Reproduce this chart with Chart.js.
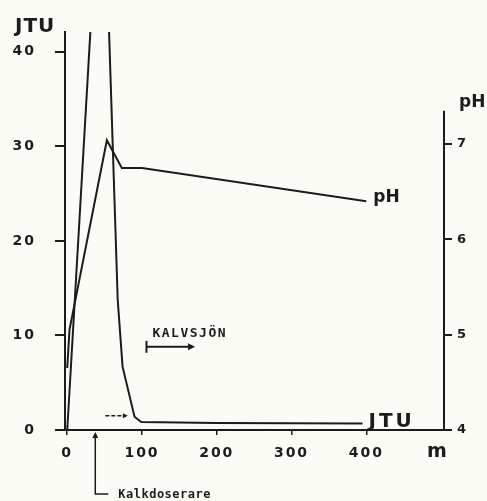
<!DOCTYPE html>
<html>
<head>
<meta charset="utf-8">
<script src="https://cdn.jsdelivr.net/npm/chart.js@4.4.0/dist/chart.umd.min.js"></script>
<style>
  html, body { margin: 0; padding: 0; background: #fcfcf7; }
  canvas { display: block; }
</style>
</head>
<body>
<canvas id="kalkChart" width="487" height="501"></canvas>
<script>
// Grumlighet (JTU) längs vattendraget, avstånd i meter
const jtuDistance = [0, 47, 67.5, 74, 90, 99, 200, 395];
const jtuValues   = [0, 64, 13.8, 6.7, 1.4, 0.85, 0.75, 0.7];

// pH längs vattendraget
const phDistance = [0, 3, 53, 73, 100, 400];
const phValues   = [4.65, 5.05, 7.04, 6.75, 6.75, 6.4];

// Axelmarkeringar
const distanceTicks = [0, 100, 200, 300, 400];
const jtuTicks = [0, 10, 20, 30, 40];
const phTicks = [4, 5, 6, 7];

// Markeringar i diagrammet
const kalkdoserareAt = 37.5;   // m
const kalvsjonStart = 106;     // m
const kalvsjonEnd = 171;       // m

const ink = '#1c1c1c';
const paper = '#fcfcf7';
const numFont = '"DejaVu Sans", sans-serif';
const monoFont = '"DejaVu Sans Mono", monospace';

function arrowHead(ctx, x, y, dir, size) {
    // dir: 'right' eller 'up'
    ctx.beginPath();
    if (dir === 'right') {
        ctx.moveTo(x, y);
        ctx.lineTo(x - size, y - size * 0.5);
        ctx.lineTo(x - size, y + size * 0.5);
    } else {
        ctx.moveTo(x, y);
        ctx.lineTo(x - size * 0.5, y + size);
        ctx.lineTo(x + size * 0.5, y + size);
    }
    ctx.closePath();
    ctx.fill();
}

const annotationPlugin = {
    id: 'annotations',
    beforeDraw(chart) {
        const ctx = chart.ctx;
        ctx.save();
        ctx.fillStyle = paper;
        ctx.fillRect(0, 0, chart.width, chart.height);
        ctx.restore();
        // bred spärrning på siffrorna, som i originalet
        ctx.letterSpacing = '2px';
    },
    afterDraw(chart) {
        const ctx = chart.ctx;
        const area = chart.chartArea;
        const x = chart.scales.x;
        const y = chart.scales.y;
        const y2 = chart.scales.y2;
        ctx.save();
        ctx.letterSpacing = '0px';
        ctx.strokeStyle = ink;
        ctx.fillStyle = ink;
        ctx.lineWidth = 2;

        // x-axeln lite förlängd åt båda hållen
        ctx.beginPath();
        ctx.moveTo(area.left - 10, area.bottom);
        ctx.lineTo(area.right + 6, area.bottom);
        ctx.stroke();

        // höger pH-axel, kortare än vänster
        ctx.beginPath();
        ctx.moveTo(area.right, y2.getPixelForValue(4));
        ctx.lineTo(area.right, y2.getPixelForValue(7.35));
        ctx.stroke();

        // axeltitlar
        ctx.textBaseline = 'alphabetic';
        ctx.textAlign = 'left';
        ctx.font = 'bold 20px ' + numFont;
        ctx.letterSpacing = '1px';
        ctx.fillText('JTU', 15, area.top);
        ctx.font = 'bold 17px ' + numFont;
        ctx.letterSpacing = '0px';
        ctx.fillText('pH', area.right + 15, y2.getPixelForValue(7.35) - 4);
        ctx.font = 'bold 19px ' + numFont;
        ctx.fillText('m', area.right - 17, area.bottom + 27);

        // kurvetiketter
        const phEnd = phDistance.length - 1;
        ctx.font = 'bold 17px ' + numFont;
        ctx.fillText('pH', x.getPixelForValue(phDistance[phEnd]) + 7,
            y2.getPixelForValue(phValues[phEnd]) + 1);
        const jtuEnd = jtuDistance.length - 1;
        ctx.font = 'bold 20px ' + numFont;
        ctx.letterSpacing = '3px';
        ctx.fillText('JTU', x.getPixelForValue(jtuDistance[jtuEnd]) + 6, area.bottom - 3);
        ctx.letterSpacing = '0px';

        // KALVSJÖN med pil
        ctx.font = 'bold 13px ' + monoFont;
        ctx.letterSpacing = '1.5px';
        ctx.fillText('KALVSJÖN', x.getPixelForValue(kalvsjonStart + 8), y.getPixelForValue(9.8));
        ctx.letterSpacing = '0px';
        const kx0 = x.getPixelForValue(kalvsjonStart);
        const kx1 = x.getPixelForValue(kalvsjonEnd);
        const ky = y.getPixelForValue(8.8);
        ctx.beginPath();
        ctx.moveTo(kx0, ky - 6);
        ctx.lineTo(kx0, ky + 6);
        ctx.moveTo(kx0, ky);
        ctx.lineTo(kx1 - 6, ky);
        ctx.stroke();
        arrowHead(ctx, kx1, ky, 'right', 7);

        // liten pil mot grumlighetskurvan
        const sy = y.getPixelForValue(1.5);
        ctx.lineWidth = 1.5;
        ctx.setLineDash([4, 2]);
        ctx.beginPath();
        ctx.moveTo(x.getPixelForValue(51), sy);
        ctx.lineTo(x.getPixelForValue(78), sy);
        ctx.stroke();
        ctx.setLineDash([]);
        arrowHead(ctx, x.getPixelForValue(81), sy, 'right', 5);

        // Kalkdoserare
        const dx = x.getPixelForValue(kalkdoserareAt);
        ctx.lineWidth = 1.5;
        ctx.beginPath();
        ctx.moveTo(dx, area.bottom + 6);
        ctx.lineTo(dx, 494);
        ctx.lineTo(dx + 13, 494);
        ctx.stroke();
        arrowHead(ctx, dx, area.bottom + 2, 'up', 6);
        ctx.font = 'bold 12px ' + monoFont;
        ctx.letterSpacing = '0.5px';
        ctx.fillText('Kalkdoserare', dx + 23, 498);

        ctx.restore();
    }
};

const ctx = document.getElementById('kalkChart').getContext('2d');
new Chart(ctx, {
    type: 'line',
    data: {
        datasets: [
            {
                label: 'JTU',
                data: jtuDistance.map((d, i) => ({ x: d, y: jtuValues[i] })),
                yAxisID: 'y',
                borderColor: ink,
                borderWidth: 2,
                pointRadius: 0,
                tension: 0
            },
            {
                label: 'pH',
                data: phDistance.map((d, i) => ({ x: d, y: phValues[i] })),
                yAxisID: 'y2',
                borderColor: ink,
                borderWidth: 2,
                pointRadius: 0,
                tension: 0
            }
        ]
    },
    options: {
        responsive: false,
        animation: false,
        layout: {
            padding: { top: 32, left: 0, right: 0, bottom: 0 }
        },
        plugins: {
            legend: { display: false },
            tooltip: { enabled: false }
        },
        scales: {
            x: {
                type: 'linear',
                min: -3,
                max: 504,
                afterBuildTicks: (scale) => { scale.ticks = distanceTicks.map(v => ({ value: v })); },
                afterFit: (scale) => { scale.height = 71; },
                grid: { drawOnChartArea: false, drawTicks: true, tickLength: 5, color: ink, lineWidth: 1.5 },
                border: { display: true, color: ink, width: 2 },
                ticks: {
                    color: ink,
                    padding: 10,
                    maxRotation: 0,
                    font: { family: numFont, size: 14, weight: 'bold' }
                }
            },
            y: {
                type: 'linear',
                position: 'left',
                min: 0,
                max: 42.1,
                afterBuildTicks: (scale) => { scale.ticks = jtuTicks.map(v => ({ value: v })); },
                afterFit: (scale) => { scale.width = 65; },
                grid: { drawOnChartArea: false, drawTicks: true, tickLength: 10, color: ink, lineWidth: 2 },
                border: { display: true, color: ink, width: 2 },
                ticks: {
                    color: ink,
                    padding: 19,
                    font: { family: numFont, size: 14, weight: 'bold' }
                }
            },
            y2: {
                type: 'linear',
                position: 'right',
                min: 4,
                max: 8.176,
                afterBuildTicks: (scale) => { scale.ticks = phTicks.map(v => ({ value: v })); },
                afterFit: (scale) => { scale.width = 43; },
                grid: { drawOnChartArea: false, drawTicks: true, tickLength: 8, color: ink, lineWidth: 2 },
                border: { display: false },
                ticks: {
                    color: ink,
                    padding: 5,
                    font: { family: numFont, size: 13, weight: 'bold' }
                }
            }
        }
    },
    plugins: [annotationPlugin]
});
</script>
</body>
</html>
